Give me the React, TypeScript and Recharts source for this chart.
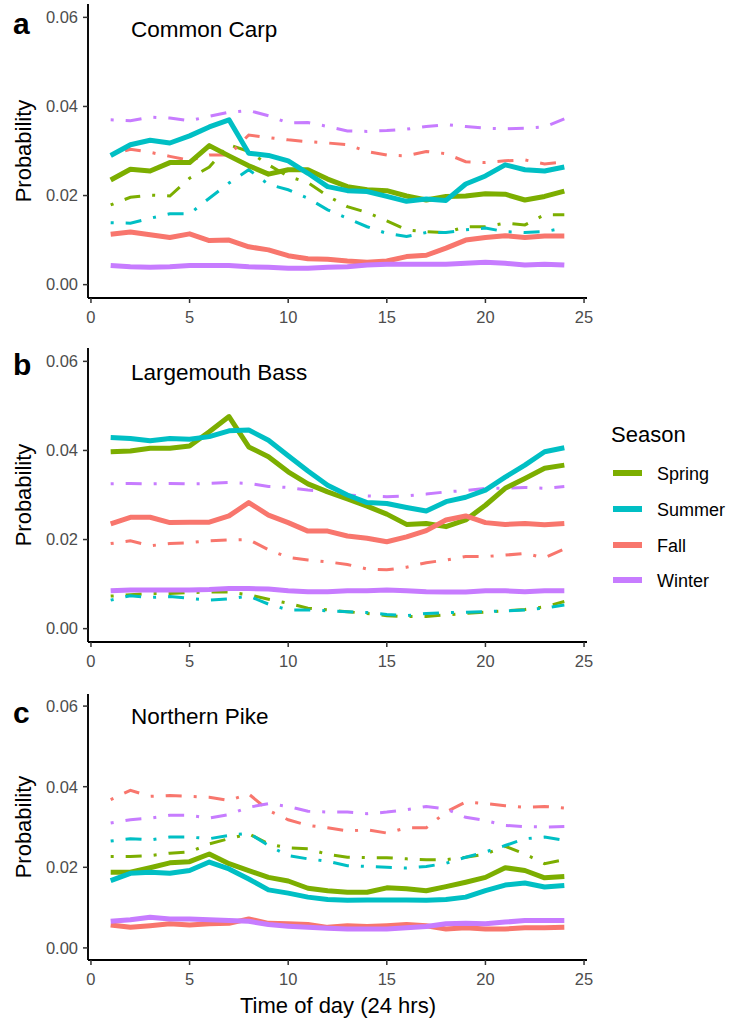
import React from 'react';
import { LineChart, Line, XAxis, YAxis } from 'recharts';

const hours = [1, 2, 3, 4, 5, 6, 7, 8, 9, 10, 11, 12, 13, 14, 15, 16, 17, 18, 19, 20, 21, 22, 23, 24];
const seasons = ['Spring', 'Summer', 'Fall', 'Winter'];
const seasonColors = ['#7CAE00', '#00BFC4', '#F8766D', '#C77CFF'];
const xTicks = [0, 5, 10, 15, 20, 25];
const yTicks = [0, 0.02, 0.04, 0.06];

// a: Common Carp
const carpSpring = [0.0235,0.0259,0.0255,0.0274,0.0274,0.0312,0.0289,0.0267,0.0248,0.0258,0.0258,0.0237,0.0220,0.0213,0.0211,0.0199,0.0190,0.0198,0.0199,0.0204,0.0203,0.0190,0.0198,0.0210];
const carpSummer = [0.0290,0.0314,0.0324,0.0318,0.0334,0.0354,0.0370,0.0295,0.0290,0.0278,0.0250,0.0220,0.0211,0.0209,0.0198,0.0187,0.0192,0.0189,0.0226,0.0244,0.0269,0.0258,0.0255,0.0264];
const carpFall = [0.0113,0.0118,0.0112,0.0106,0.0114,0.0099,0.0100,0.0085,0.0078,0.0065,0.0058,0.0057,0.0053,0.0050,0.0053,0.0063,0.0066,0.0082,0.0100,0.0106,0.0110,0.0106,0.0109,0.0109];
const carpWinter = [0.0043,0.0040,0.0039,0.0040,0.0043,0.0043,0.0043,0.0040,0.0039,0.0037,0.0037,0.0039,0.0040,0.0044,0.0046,0.0046,0.0046,0.0046,0.0048,0.0050,0.0048,0.0044,0.0046,0.0044];
const carpSpringDD = [0.0179,0.0196,0.0201,0.0199,0.0239,0.0264,0.0314,0.0299,0.0269,0.0243,0.0229,0.0199,0.0175,0.0162,0.0143,0.0123,0.0119,0.0117,0.0130,0.0130,0.0138,0.0134,0.0157,0.0157];
const carpSummerDD = [0.0139,0.0138,0.0149,0.0159,0.0159,0.0194,0.0228,0.0258,0.0225,0.0213,0.0194,0.0168,0.0149,0.0130,0.0115,0.0108,0.0117,0.0117,0.0123,0.0127,0.0119,0.0117,0.0119,0.0127];
const carpFallDD = [0.0291,0.0304,0.0297,0.0288,0.0279,0.0291,0.0291,0.0336,0.0330,0.0325,0.0321,0.0318,0.0314,0.0299,0.0291,0.0289,0.0299,0.0294,0.0276,0.0274,0.0278,0.0280,0.0271,0.0276];
const carpWinterDD = [0.0370,0.0368,0.0376,0.0374,0.0368,0.0378,0.0387,0.0391,0.0379,0.0363,0.0364,0.0355,0.0345,0.0344,0.0346,0.0349,0.0355,0.0359,0.0355,0.0351,0.0350,0.0351,0.0354,0.0372];

// b: Largemouth Bass
const bassSpring = [0.0397,0.0399,0.0405,0.0405,0.0410,0.0442,0.0476,0.0408,0.0386,0.0352,0.0325,0.0307,0.0291,0.0275,0.0257,0.0234,0.0236,0.0229,0.0244,0.0277,0.0315,0.0337,0.0360,0.0367];
const bassSummer = [0.0429,0.0427,0.0422,0.0427,0.0425,0.0431,0.0444,0.0446,0.0423,0.0388,0.0354,0.0322,0.0300,0.0283,0.0281,0.0272,0.0264,0.0285,0.0295,0.0311,0.0340,0.0367,0.0397,0.0406];
const bassFall = [0.0235,0.0250,0.0250,0.0238,0.0239,0.0239,0.0253,0.0283,0.0255,0.0238,0.0219,0.0219,0.0208,0.0203,0.0195,0.0206,0.0220,0.0244,0.0253,0.0238,0.0234,0.0236,0.0233,0.0236];
const bassWinter = [0.0085,0.0087,0.0087,0.0087,0.0087,0.0088,0.0090,0.0090,0.0089,0.0085,0.0083,0.0083,0.0085,0.0085,0.0087,0.0085,0.0083,0.0082,0.0082,0.0085,0.0085,0.0083,0.0085,0.0085];
const bassSpringDD = [0.0073,0.0076,0.0079,0.0079,0.0081,0.0082,0.0082,0.0076,0.0066,0.0057,0.0046,0.0042,0.0038,0.0034,0.0029,0.0027,0.0027,0.0031,0.0034,0.0037,0.0040,0.0043,0.0049,0.0061];
const bassSummerDD = [0.0064,0.0074,0.0070,0.0072,0.0068,0.0064,0.0067,0.0073,0.0055,0.0042,0.0042,0.0040,0.0038,0.0036,0.0032,0.0029,0.0034,0.0036,0.0037,0.0038,0.0040,0.0042,0.0046,0.0053];
const bassFallDD = [0.0191,0.0197,0.0186,0.0191,0.0193,0.0197,0.0199,0.0200,0.0177,0.0160,0.0154,0.0150,0.0144,0.0134,0.0132,0.0138,0.0148,0.0154,0.0162,0.0162,0.0165,0.0169,0.0159,0.0179];
const bassWinterDD = [0.0325,0.0326,0.0325,0.0326,0.0325,0.0326,0.0328,0.0326,0.0319,0.0317,0.0311,0.0307,0.0300,0.0298,0.0296,0.0298,0.0302,0.0307,0.0310,0.0315,0.0315,0.0317,0.0315,0.0319];

// c: Northern Pike
const pikeSpring = [0.0188,0.0188,0.0199,0.0211,0.0214,0.0233,0.0209,0.0192,0.0175,0.0166,0.0148,0.0142,0.0138,0.0138,0.0149,0.0147,0.0142,0.0152,0.0163,0.0175,0.0199,0.0192,0.0174,0.0177];
const pikeSummer = [0.0167,0.0185,0.0188,0.0185,0.0192,0.0213,0.0196,0.0171,0.0144,0.0136,0.0126,0.0120,0.0118,0.0119,0.0119,0.0119,0.0118,0.0120,0.0126,0.0142,0.0156,0.0161,0.0151,0.0155];
const pikeFall = [0.0057,0.0051,0.0055,0.0060,0.0057,0.0060,0.0061,0.0072,0.0061,0.0060,0.0058,0.0051,0.0055,0.0053,0.0055,0.0058,0.0055,0.0047,0.0050,0.0047,0.0047,0.0050,0.0050,0.0051];
const pikeWinter = [0.0066,0.0070,0.0076,0.0072,0.0072,0.0070,0.0068,0.0066,0.0058,0.0054,0.0051,0.0049,0.0047,0.0047,0.0047,0.0050,0.0053,0.0060,0.0061,0.0060,0.0064,0.0068,0.0068,0.0068];
const pikeSpringDD = [0.0227,0.0227,0.0229,0.0235,0.0238,0.0258,0.0271,0.0283,0.0258,0.0248,0.0246,0.0232,0.0225,0.0224,0.0224,0.0221,0.0219,0.0219,0.0225,0.0233,0.0252,0.0233,0.0209,0.0219];
const pikeSummerDD = [0.0265,0.0271,0.0268,0.0275,0.0275,0.0271,0.0279,0.0285,0.0254,0.0229,0.0221,0.0215,0.0204,0.0202,0.0200,0.0198,0.0202,0.0210,0.0225,0.0238,0.0254,0.0271,0.0275,0.0267];
const pikeFallDD = [0.0368,0.0391,0.0376,0.0378,0.0376,0.0374,0.0366,0.0382,0.0341,0.0318,0.0304,0.0298,0.0290,0.0293,0.0285,0.0298,0.0298,0.0337,0.0362,0.0358,0.0353,0.0349,0.0351,0.0347];
const pikeWinterDD = [0.0310,0.0318,0.0322,0.0329,0.0329,0.0322,0.0331,0.0349,0.0358,0.0351,0.0339,0.0337,0.0337,0.0333,0.0337,0.0343,0.0351,0.0345,0.0324,0.0316,0.0304,0.0301,0.0300,0.0301];

const FONT = '"Liberation Sans", Arial, Helvetica, sans-serif';

function buildRows(solid: number[][], dd: number[][]) {
  return hours.map((h, i) => {
    const row: Record<string, number> = { hour: h };
    solid.forEach((arr, k) => { row['s' + k] = arr[i]; });
    dd.forEach((arr, k) => { row['d' + k] = arr[i]; });
    return row;
  });
}

type PanelProps = {
  top: number;
  plotH: number;
  solid: number[][];
  dd: number[][];
};

function Panel({ top, plotH, solid, dd }: PanelProps) {
  const data = buildRows(solid, dd);
  const h = 4 + plotH + 40;
  return (
    <div style={{ position: 'absolute', left: 0, top, width: 600, height: h }}>
      <LineChart width={600} height={h} data={data} margin={{ top: 4, right: 13, bottom: 0, left: 0 }}>
        <XAxis
          dataKey="hour"
          type="number"
          domain={[-0.15, 25.15]}
          ticks={xTicks}
          interval={0}
          height={40}
          tickSize={5}
          tickMargin={8}
          tick={{ fill: '#4D4D4D', fontSize: 16.5, fontFamily: FONT }}
          axisLine={{ stroke: '#000', strokeWidth: 1.9 }}
          tickLine={{ stroke: '#333', strokeWidth: 1.5 }}
        />
        <YAxis
          type="number"
          domain={[-0.003, 0.063]}
          ticks={yTicks}
          interval={0}
          width={88}
          tickSize={5}
          tickMargin={5}
          tickFormatter={(v: number) => v.toFixed(2)}
          tick={{ fill: '#4D4D4D', fontSize: 16.5, fontFamily: FONT }}
          axisLine={{ stroke: '#000', strokeWidth: 1.9 }}
          tickLine={{ stroke: '#333', strokeWidth: 1.5 }}
        />
        {dd.map((_, k) => (
          <Line
            key={'d' + k}
            type="linear"
            dataKey={'d' + k}
            stroke={seasonColors[k]}
            strokeWidth={3}
            strokeDasharray="3 12 16 12"
            dot={false}
            activeDot={false}
            isAnimationActive={false}
          />
        ))}
        {solid.map((_, k) => (
          <Line
            key={'s' + k}
            type="linear"
            dataKey={'s' + k}
            stroke={seasonColors[k]}
            strokeWidth={5}
            strokeLinejoin="round"
            dot={false}
            activeDot={false}
            isAnimationActive={false}
          />
        ))}
      </LineChart>
    </div>
  );
}

const panels = [
  { top: 0, plotH: 294, letter: 'a', title: 'Common Carp', letterY: 34, titleY: 37,
    solid: [carpSpring, carpSummer, carpFall, carpWinter], dd: [carpSpringDD, carpSummerDD, carpFallDD, carpWinterDD] },
  { top: 344, plotH: 294, letter: 'b', title: 'Largemouth Bass', letterY: 375, titleY: 380,
    solid: [bassSpring, bassSummer, bassFall, bassWinter], dd: [bassSpringDD, bassSummerDD, bassFallDD, bassWinterDD] },
  { top: 690, plotH: 266, letter: 'c', title: 'Northern Pike', letterY: 723, titleY: 724,
    solid: [pikeSpring, pikeSummer, pikeFall, pikeWinter], dd: [pikeSpringDD, pikeSummerDD, pikeFallDD, pikeWinterDD] },
];

const legendRowsY = [473, 509, 545, 580];

export default function App() {
  return (
    <div style={{ position: 'absolute', left: 0, top: 0, width: 729, height: 1020, background: '#fff', fontFamily: FONT }}>
      {panels.map((p) => (
        <Panel key={p.letter} top={p.top} plotH={p.plotH} solid={p.solid} dd={p.dd} />
      ))}
      <svg width={729} height={1020} style={{ position: 'absolute', left: 0, top: 0, pointerEvents: 'none' }}>
        {panels.map((p) => {
          const cy = p.top + 4 + p.plotH / 2;
          return (
            <g key={'t' + p.letter} fontFamily={FONT}>
              <text x={13} y={p.letterY} fontSize={30} fontWeight="bold" fill="#000">{p.letter}</text>
              <text x={131} y={p.titleY} fontSize={22.5} fill="#000">{p.title}</text>
              <text x={31} y={cy} fontSize={22} fill="#000" textAnchor="middle" transform={`rotate(-90, 31, ${cy})`}>Probability</text>
            </g>
          );
        })}
        <text x={338} y={1013} fontSize={22} fill="#000" textAnchor="middle" fontFamily={FONT}>Time of day (24 hrs)</text>
        <g fontFamily={FONT}>
          <text x={611} y={442} fontSize={22} fill="#000">Season</text>
          {seasons.map((s, i) => (
            <g key={s}>
              <line x1={613} x2={642} y1={legendRowsY[i]} y2={legendRowsY[i]} stroke={seasonColors[i]} strokeWidth={6} />
              <text x={657} y={legendRowsY[i] + 6.5} fontSize={18} fill="#000">{s}</text>
            </g>
          ))}
        </g>
      </svg>
    </div>
  );
}
